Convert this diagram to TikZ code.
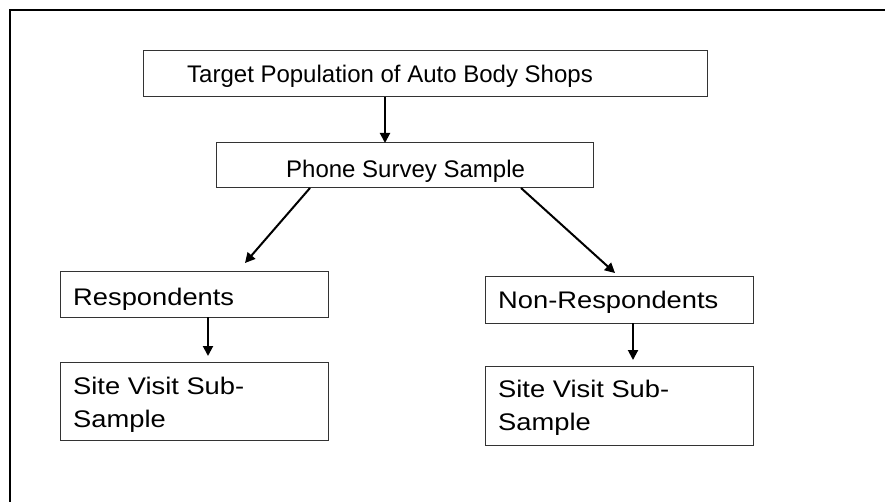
\documentclass[tikz,border=0pt]{standalone}
\usepackage{fontspec}
\setmainfont{Liberation Sans}
\newfontfamily\widefont[FakeStretch=1.138]{Liberation Sans}
\usetikzlibrary{arrows.meta,calc}
\begin{document}
\begin{tikzpicture}[x=1pt,y=-1pt,
  box/.style={draw=black!80, line width=1pt, rectangle, inner sep=0pt, outer sep=0pt, anchor=north west},
  txt/.style={inner sep=0pt, anchor=north west, align=left, font=\fontsize{24}{33}\selectfont},
  wtxt/.style={txt, font=\widefont\fontsize{24}{33}\selectfont},
  arr/.style={line width=2pt, -{Triangle[length=10pt,width=10pt]}}]
\useasboundingbox (0,0) rectangle (885,502);
\draw[line width=2pt] (10,502) -- (10,10) -- (885,10);
% boxes
\node[box, minimum width=564pt, minimum height=46pt] (target) at (143,51) {};
\node[box, minimum width=377pt, minimum height=45pt] (phone) at (216,143) {};
\node[box, minimum width=268pt, minimum height=45pt] (resp) at (60,272) {};
\node[box, minimum width=268pt, minimum height=78pt] (siteL) at (60,362) {};
\node[box, minimum width=268pt, minimum height=46pt] (non) at (485,277) {};
\node[box, minimum width=268pt, minimum height=79pt] (siteR) at (485,366) {};
% texts
\node[txt] (ttarget) at (187,65) {Target Population of Auto Body Shops};
\node[txt] (tphone) at (286,160) {Phone Survey Sample};
\node[wtxt] (tresp) at (73,288) {Respondents};
\node[wtxt] (tsiteL) at (73,377) {Site Visit Sub-\\Sample};
\node[wtxt] (tnon) at (498,291) {Non-Respondents};
\node[wtxt] (tsiteR) at (498,380) {Site Visit Sub-\\Sample};
% arrows
\draw[arr] ($(target.south west)+(242,0)$) -- ($(phone.north west)+(169,0)$);
\coordinate (tipR) at ($(resp.north west)+(185,-9)$);
\coordinate (tipN) at ($(non.north west)+(130,-4)$);
\coordinate (tipSL) at ($(siteL.north west)+(148,-6)$);
\coordinate (tipSR) at ($(siteR.north west)+(148,-6)$);
\draw[arr] ($(phone.south west)+(94,0)$) -- (tipR);
\draw[arr] ($(phone.south west)+(305,0)$) -- (tipN);
\draw[arr] ($(resp.south west)+(148,0)$) -- (tipSL);
\draw[arr] ($(non.south west)+(148,0)$) -- (tipSR);
\end{tikzpicture}
\end{document}
